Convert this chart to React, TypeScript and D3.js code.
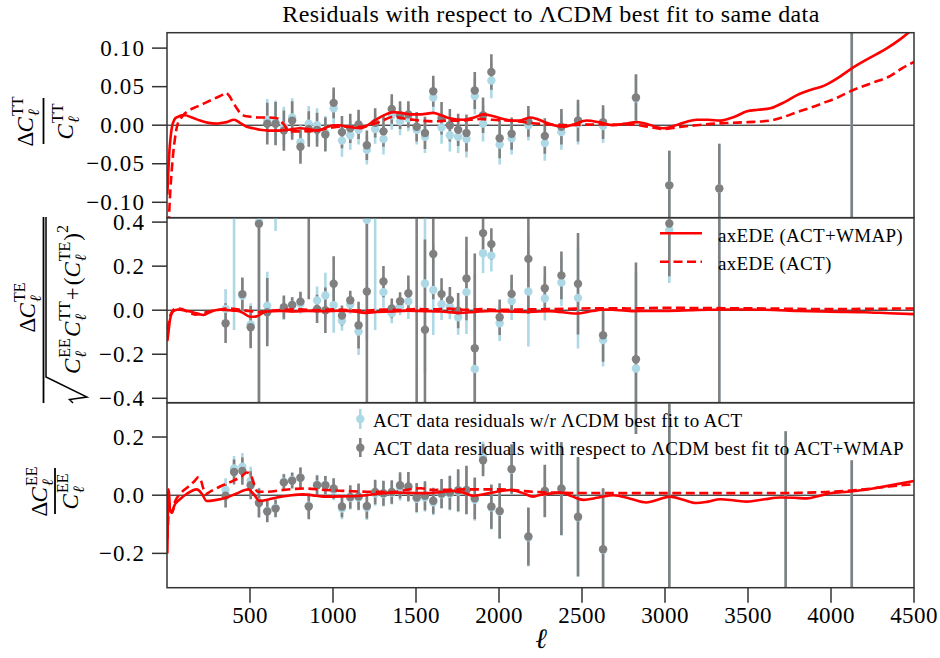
import React from 'react';
import * as d3 from 'd3';

// ---------- data ----------
const ell = [353, 404, 454, 504, 554, 604, 654, 704, 754, 804, 854, 904, 954, 1004, 1054, 1104, 1154, 1204, 1254, 1304, 1354, 1404, 1454, 1504, 1554, 1604, 1654, 1704, 1754, 1804, 1854, 1904, 1954, 2004, 2076, 2177, 2276, 2376, 2476, 2627, 2825, 3026, 3327, 3727, 4125];

const ttGray = [null, null, null, null, null, 0.002, 0.002, -0.007, 0.006, -0.028, -0.005, -0.006, -0.012, 0.029, -0.009, -0.004, 0.001, -0.026, 0.003, -0.008, 0.021, 0.013, 0.014, -0.002, -0.010, 0.044, 0.009, 0.000, -0.006, -0.010, 0.045, 0.013, 0.069, -0.017, -0.011, 0.005, -0.014, -0.002, 0.006, 0.004, 0.036, -0.078, -0.082, null, 0.25];
const ttBlue = [null, null, null, null, null, 0.007, 0.004, -0.002, 0.010, -0.022, 0.002, 0.000, -0.010, 0.022, -0.020, -0.013, -0.006, -0.032, -0.005, -0.018, 0.013, 0.005, 0.009, -0.006, -0.015, 0.036, -0.003, -0.013, -0.015, -0.018, 0.038, 0.002, 0.058, -0.025, -0.017, 0.000, -0.023, -0.009, 0.002, -0.001, 0.035, -0.078, -0.082, null, 0.25];
const ttErr = [0, 0, 0, 0, 0, 0.027, 0.028, 0.026, 0.025, 0.022, 0.023, 0.022, 0.022, 0.020, 0.021, 0.019, 0.019, 0.019, 0.019, 0.020, 0.019, 0.018, 0.017, 0.019, 0.021, 0.020, 0.021, 0.021, 0.021, 0.024, 0.024, 0.023, 0.023, 0.026, 0.021, 0.020, 0.023, 0.023, 0.027, 0.022, 0.030, 0.045, 0.058, 0, 0.5];

const teGray = [-0.059, null, 0.073, -0.077, 0.392, -0.009, null, 0.014, 0.024, 0.039, 0.55, 0.006, 0.000, 0.120, -0.024, 0.045, -0.068, 0.085, null, 0.130, 0.008, 0.041, 0.077, 0.7, -0.089, 0.255, 0.073, 0.047, -0.002, 0.144, -0.173, 0.350, 0.300, -0.032, 0.074, 0.233, 0.100, 0.158, 0.120, -0.114, -0.223, 0.394, 0.7, null, null];
const teBlue = [0.006, 0.50, 0.065, -0.065, 0.400, 0.020, 0.62, 0.009, 0.024, 0.029, null, 0.044, 0.067, 0.023, -0.048, 0.027, -0.097, 0.410, 0.52, 0.082, -0.014, 0.017, 0.040, null, 0.121, 0.092, 0.027, 0.017, -0.032, 0.082, -0.267, 0.259, 0.248, -0.059, 0.042, 0.085, 0.053, 0.126, 0.056, -0.136, -0.265, 0.364, 0.7, null, null];
const teErr = [0.09, 0.59, 0.076, 0.096, 0.85, 0.155, 0.26, 0.053, 0.035, 0.045, 0.50, 0.064, 0.103, 0.125, 0.045, 0.043, 0.106, 0.55, 0.61, 0.071, 0.045, 0.040, 0.080, 1.2, 0.41, 0.205, 0.072, 0.058, 0.080, 0.190, 0.43, 0.090, 0.072, 0.081, 0.087, 0.25, 0.10, 0.108, 0.23, 0.12, 0.44, 0.24, 1.3, 0, 0];

const eeGray = [-0.002, 0.080, 0.083, 0.034, -0.027, -0.056, -0.046, 0.044, 0.050, 0.060, -0.039, 0.034, 0.034, 0.023, -0.039, -0.006, -0.005, -0.037, 0.011, 0.007, 0.011, 0.034, 0.030, -0.008, -0.002, -0.019, 0.006, 0.009, 0.017, 0.018, -0.011, 0.120, -0.039, -0.054, 0.090, -0.142, 0.015, 0.023, -0.074, -0.186, 0.50, -0.6, null, -0.40, -0.40];
const eeBlue = [0.018, 0.092, 0.098, 0.050, -0.024, -0.054, -0.044, 0.046, 0.052, 0.060, -0.036, 0.036, 0.035, 0.018, -0.046, -0.010, -0.008, -0.042, 0.006, 0.004, 0.008, 0.026, 0.026, -0.012, -0.007, -0.024, 0.003, 0.005, 0.013, 0.016, -0.016, 0.130, -0.042, -0.056, 0.088, -0.145, 0.013, 0.021, -0.076, -0.188, 0.50, -0.6, null, -0.40, -0.40];
const eeErr = [0.040, 0.043, 0.047, 0.048, 0.050, 0.037, 0.030, 0.028, 0.027, 0.035, 0.044, 0.034, 0.032, 0.035, 0.037, 0.040, 0.045, 0.043, 0.042, 0.043, 0.040, 0.045, 0.050, 0.050, 0.050, 0.045, 0.050, 0.058, 0.072, 0.083, 0.072, 0.055, 0.076, 0.095, 0.085, 0.100, 0.090, 0.160, 0.205, 0.210, 0.29, 1.0, 0, 0.62, 0.52];

const ttSolid: [number, number][] = [[2, -0.09], [8, -0.06], [14, -0.035], [22, -0.015], [30, -0.002], [38, 0.004], [50, 0.009], [68, 0.011], [90, 0.013], [108, 0.013], [150, 0.010], [199, 0.006], [250, 0.003], [299, 0.002], [330, 0.003], [359, 0.004], [404, 0.007], [440, 0.003], [480, -0.002], [520, -0.004], [560, -0.006], [610, -0.007], [661, -0.007], [730, -0.006], [801, -0.004], [850, -0.005], [902, -0.007], [950, -0.004], [1002, 0.0], [1040, 0.0], [1082, -0.002], [1120, -0.003], [1163, -0.004], [1200, -0.001], [1243, 0.005], [1300, 0.012], [1363, 0.017], [1410, 0.016], [1464, 0.014], [1530, 0.014], [1604, 0.016], [1650, 0.013], [1705, 0.009], [1785, 0.007], [1850, 0.010], [1906, 0.014], [1960, 0.012], [2026, 0.008], [2076, 0.006], [2126, 0.006], [2187, 0.010], [2230, 0.008], [2275, 0.004], [2330, 0.0], [2388, -0.002], [2450, 0.001], [2528, 0.006], [2600, 0.004], [2689, 0.0], [2760, 0.002], [2831, 0.004], [2900, 0.001], [2992, -0.004], [3080, 0.001], [3193, 0.007], [3260, 0.007], [3333, 0.006], [3420, 0.011], [3494, 0.018], [3560, 0.020], [3635, 0.022], [3720, 0.030], [3795, 0.039], [3880, 0.046], [3956, 0.051], [4040, 0.061], [4127, 0.074], [4230, 0.087], [4338, 0.100], [4420, 0.112], [4500, 0.126]];
const ttDashed: [number, number][] = [[10, -0.13], [14, -0.11], [20, -0.085], [28, -0.06], [38, -0.035], [48, -0.017], [62, 0.0], [78, 0.007], [98, 0.013], [118, 0.017], [180, 0.024], [240, 0.030], [300, 0.036], [330, 0.039], [355, 0.042], [375, 0.038], [395, 0.031], [420, 0.022], [440, 0.016], [470, 0.012], [500, 0.011], [550, 0.010], [600, 0.010], [661, 0.009], [700, 0.002], [741, -0.008], [800, -0.008], [902, -0.007], [970, -0.004], [1042, -0.002], [1100, -0.002], [1163, -0.002], [1263, 0.003], [1320, 0.008], [1363, 0.011], [1420, 0.009], [1484, 0.007], [1604, 0.005], [1700, 0.006], [1765, 0.006], [1886, 0.008], [1960, 0.007], [2046, 0.006], [2120, 0.005], [2187, 0.003], [2300, 0.001], [2388, 0.0], [2590, 0.001], [2791, 0.001], [2900, -0.002], [2992, -0.005], [3100, -0.002], [3193, 0.0], [3300, 0.002], [3394, 0.003], [3500, 0.004], [3635, 0.006], [3720, 0.011], [3795, 0.017], [3880, 0.023], [3956, 0.029], [4040, 0.036], [4127, 0.045], [4250, 0.055], [4358, 0.064], [4430, 0.074], [4500, 0.082]];

const teSolid: [number, number][] = [[2, -0.14], [8, -0.105], [18, -0.044], [30, -0.012], [48, 0.0], [70, 0.003], [98, 0.0], [140, -0.006], [179, -0.014], [219, -0.022], [250, -0.012], [279, -0.002], [320, 0.002], [359, 0.001], [400, -0.002], [440, -0.006], [470, -0.018], [500, -0.030], [540, -0.028], [570, -0.015], [600, -0.006], [680, -0.003], [761, -0.006], [850, -0.003], [950, -0.005], [1050, -0.002], [1150, -0.008], [1203, -0.012], [1260, -0.008], [1350, -0.006], [1450, -0.002], [1550, -0.004], [1650, -0.006], [1765, -0.012], [1850, -0.008], [1950, -0.003], [2050, -0.006], [2187, -0.008], [2300, -0.004], [2468, -0.015], [2560, -0.004], [2650, 0.003], [2800, -0.004], [3000, -0.003], [3200, 0.001], [3400, 0.003], [3600, 0.002], [3800, -0.003], [4000, -0.007], [4200, -0.009], [4350, -0.014], [4500, -0.018]];
const teDashed: [number, number][] = [[5, -0.09], [12, -0.05], [25, -0.015], [40, 0.003], [60, 0.008], [90, 0.005], [130, -0.01], [170, -0.02], [210, -0.015], [260, -0.005], [320, 0.003], [380, 0.008], [430, 0.003], [500, -0.004], [560, -0.008], [620, -0.003], [700, 0.002], [800, 0.004], [900, 0.0], [1000, 0.004], [1100, 0.0], [1200, -0.002], [1300, 0.003], [1400, 0.001], [1500, 0.005], [1600, 0.004], [1700, 0.007], [1800, 0.002], [1900, 0.005], [2000, 0.002], [2200, 0.004], [2400, 0.006], [2600, 0.009], [2800, 0.008], [3000, 0.011], [3200, 0.010], [3400, 0.009], [3600, 0.008], [3800, 0.006], [4000, 0.005], [4200, 0.006], [4500, 0.008]];

const eeSolid: [number, number][] = [[2, -0.20], [5, -0.08], [9, 0.02], [13, 0.0], [18, -0.05], [28, -0.06], [45, -0.035], [78, -0.014], [120, 0.005], [179, 0.02], [210, 0.005], [239, -0.02], [290, -0.017], [359, -0.008], [420, 0.006], [490, 0.02], [520, 0.005], [560, -0.02], [610, -0.015], [661, -0.008], [740, -0.001], [821, 0.003], [900, -0.002], [962, -0.005], [1060, -0.004], [1163, -0.002], [1260, 0.004], [1363, 0.009], [1460, 0.008], [1564, 0.007], [1650, 0.011], [1725, 0.015], [1790, 0.008], [1845, -0.002], [1950, 0.008], [2066, 0.018], [2140, 0.008], [2206, -0.005], [2240, 0.0], [2275, 0.003], [2375, 0.009], [2440, -0.004], [2508, -0.016], [2600, -0.008], [2689, 0.0], [2790, -0.012], [2887, -0.025], [2960, -0.015], [3028, -0.005], [3110, -0.016], [3189, -0.027], [3260, -0.022], [3333, -0.014], [3420, -0.018], [3494, -0.022], [3600, -0.014], [3695, -0.008], [3780, -0.009], [3855, -0.011], [3930, -0.002], [3996, 0.007], [4100, 0.012], [4197, 0.018], [4350, 0.033], [4500, 0.049]];
const eeDashed: [number, number][] = [[3, -0.15], [8, -0.07], [15, -0.03], [30, -0.06], [50, -0.02], [80, 0.005], [130, 0.03], [165, 0.048], [190, 0.062], [205, 0.05], [220, 0.02], [232, 0.004], [260, 0.012], [320, 0.03], [400, 0.05], [450, 0.065], [480, 0.078], [500, 0.074], [520, 0.045], [545, 0.012], [600, 0.012], [700, 0.018], [821, 0.023], [950, 0.018], [1060, 0.015], [1200, 0.012], [1363, 0.011], [1480, 0.022], [1530, 0.024], [1600, 0.018], [1800, 0.02], [2000, 0.02], [2200, 0.012], [2400, 0.008], [2800, 0.007], [3200, 0.007], [3600, 0.007], [3800, 0.008], [4000, 0.012], [4200, 0.02], [4350, 0.03], [4500, 0.038]];

const ttTicks = [-0.10, -0.05, 0.0, 0.05, 0.10];
const teTicks = [-0.4, -0.2, 0.0, 0.2, 0.4];
const eeTicks = [-0.2, 0.0, 0.2];
const xTicks = [500, 1000, 1500, 2000, 2500, 3000, 3500, 4000, 4500];

const titleText = 'Residuals with respect to ΛCDM best fit to same data';
const legendModels = ['axEDE (ACT+WMAP)', 'axEDE (ACT)'];
const legendData = ['ACT data residuals w/r ΛCDM best fit to ACT', 'ACT data residuals with respect to ΛCDM best fit to ACT+WMAP'];

// ---------- styling ----------
const FONT = "'Liberation Serif','DejaVu Serif','Times New Roman',serif";
const RED = '#ff0000';
const GRAY = '#808080';
const BLUE = '#add8e6';
const SPINE = '#333333';
const X0 = 167, X1 = 914;

type Piece = { t: string; fs: number; it?: boolean; dy: number; adv: number };
const CW: Record<string, number> = { 'Δ': 0.612, 'C': 0.667, 'E': 0.611, 'T': 0.611, 'ℓ': 0.42, '(': 0.333, ')': 0.333, '+': 0.564, '2': 0.5 };
const tw = (s: string, fs: number) => Array.from(s).reduce((a, c) => a + (CW[c] ?? 0.5), 0) * fs;

function cTerm(sup: string, base = 23): Piece[] {
  return [
    { t: 'C', fs: base, it: true, dy: 0, adv: tw('C', base) + 1 },
    { t: sup, fs: 16, dy: -10, adv: 0 },
    { t: 'ℓ', fs: 16, it: true, dy: 6, adv: Math.max(tw(sup, 16), tw('ℓ', 16)) + 1 },
  ];
}

function MathRow({ pieces, y, center = 0, left }: { pieces: Piece[]; y: number; center?: number; left?: number }) {
  const total = pieces.reduce((a, p) => a + p.adv, 0);
  let xx = left !== undefined ? left : center - total / 2;
  return (
    <g>
      {pieces.map((p, i) => {
        const el = (
          <text key={i} x={xx} y={y + p.dy} fontSize={p.fs} fontStyle={p.it ? 'italic' : 'normal'} fill="#000">
            {p.t}
          </text>
        );
        xx += p.adv;
        return el;
      })}
    </g>
  );
}

type PanelDef = {
  top: number; bottom: number; dom: [number, number]; ticks: number[]; fmt: string;
  gray: (number | null)[]; blue: (number | null)[]; err: number[];
  solid: [number, number][]; dashed: [number, number][]; id: string;
};

const panels: PanelDef[] = [
  { id: 'tt', top: 32.7, bottom: 217.7, dom: [-0.12, 0.12], ticks: ttTicks, fmt: '.2f', gray: ttGray, blue: ttBlue, err: ttErr, solid: ttSolid, dashed: ttDashed },
  { id: 'te', top: 217.7, bottom: 402.7, dom: [-0.42, 0.42], ticks: teTicks, fmt: '.1f', gray: teGray, blue: teBlue, err: teErr, solid: teSolid, dashed: teDashed },
  { id: 'ee', top: 402.7, bottom: 587.7, dom: [-0.318, 0.318], ticks: eeTicks, fmt: '.1f', gray: eeGray, blue: eeBlue, err: eeErr, solid: eeSolid, dashed: eeDashed },
];

function Panel({ p, x }: { p: PanelDef; x: d3.ScaleLinear<number, number> }) {
  const y = d3.scaleLinear().domain(p.dom).range([p.bottom, p.top]);
  const line = d3.line<[number, number]>().x(d => x(d[0])).y(d => y(d[1])).curve(d3.curveMonotoneX);
  const fmt = d3.format(p.fmt);
  const clip = `clip-${p.id}`;
  const bars = (vals: (number | null)[], color: string) =>
    ell.map((l, i) => {
      const v = vals[i];
      if (v === null || v === undefined) return null;
      const e = p.err[i];
      return <line key={i} x1={x(l)} x2={x(l)} y1={y(v - e)} y2={y(v + e)} stroke={color} strokeWidth={2.6} />;
    });
  const dots = (vals: (number | null)[], color: string) =>
    ell.map((l, i) => {
      const v = vals[i];
      if (v === null || v === undefined) return null;
      return <circle key={i} cx={x(l)} cy={y(v)} r={4.2} fill={color} />;
    });
  return (
    <g>
      <defs>
        <clipPath id={clip}>
          <rect x={X0} y={p.top} width={X1 - X0} height={p.bottom - p.top} />
        </clipPath>
      </defs>
      <g clipPath={`url(#${clip})`}>
        <line x1={X0} x2={X1} y1={y(0)} y2={y(0)} stroke="#000" strokeWidth={1} />
        {bars(p.blue, BLUE)}
        {bars(p.gray, GRAY)}
        {dots(p.blue, BLUE)}
        {dots(p.gray, GRAY)}
        <path d={line(p.solid) || ''} fill="none" stroke={RED} strokeWidth={2.6} />
        <path d={line(p.dashed) || ''} fill="none" stroke={RED} strokeWidth={2.6} strokeDasharray="9,4.5" />
      </g>
      <rect x={X0} y={p.top} width={X1 - X0} height={p.bottom - p.top} fill="none" stroke={SPINE} strokeWidth={1.5} />
      {p.ticks.map((t, i) => (
        <g key={i}>
          <line x1={152} x2={X0} y1={y(t)} y2={y(t)} stroke={SPINE} strokeWidth={1.5} />
          <text x={145} y={y(t)} textAnchor="end" dominantBaseline="central" fontSize={23} letterSpacing={1.1} fill="#000">
            {fmt(t)}
          </text>
        </g>
      ))}
    </g>
  );
}

export default function App() {
  const x = d3.scaleLinear().domain([0, 4500]).range([X0, X1]);
  const bottom = panels[2].bottom;

  const numTT: Piece[] = [{ t: 'Δ', fs: 23, dy: 0, adv: tw('Δ', 23) }, ...cTerm('TT')];
  const denTT: Piece[] = cTerm('TT');
  const numTE: Piece[] = [{ t: 'Δ', fs: 23, dy: 0, adv: tw('Δ', 23) }, ...cTerm('TE')];
  const denTE: Piece[] = [
    ...cTerm('EE'),
    ...cTerm('TT'),
    { t: '+', fs: 23, dy: 0, adv: tw('+', 23) + 2 },
    { t: '(', fs: 23, dy: 0, adv: tw('(', 23) },
    ...cTerm('TE'),
    { t: ')', fs: 23, dy: 0, adv: tw(')', 23) },
    { t: '2', fs: 16, dy: -12, adv: tw('2', 16) },
  ];
  const numEE: Piece[] = [{ t: 'Δ', fs: 23, dy: 0, adv: tw('Δ', 23) }, ...cTerm('EE')];
  const denEE: Piece[] = cTerm('EE');

  return (
    <svg width={940} height={658} style={{ position: 'absolute', left: 0, top: 0, display: 'block', background: '#fff' }} fontFamily={FONT}>
      <rect x={0} y={0} width={940} height={658} fill="#fff" />
      <text x={551} y={22} textAnchor="middle" fontSize={24} letterSpacing={0.4} fill="#000">{titleText}</text>

      {panels.map(p => <Panel key={p.id} p={p} x={x} />)}

      {/* x axis ticks and labels */}
      {xTicks.map((t, i) => (
        <g key={i}>
          <line x1={x(t)} x2={x(t)} y1={bottom} y2={bottom + 15} stroke={SPINE} strokeWidth={1.5} />
          <text x={x(t)} y={623} textAnchor="middle" fontSize={23} letterSpacing={0.4} fill="#000">{t}</text>
        </g>
      ))}
      <text x={541} y={648} textAnchor="middle" fontSize={28} fontStyle="italic" fill="#000">ℓ</text>

      {/* y labels */}
      <g transform="translate(43.5,121) rotate(-90)">
        <MathRow pieces={numTT} y={-10.5} />
        <line x1={-23} x2={23} y1={0} y2={0} stroke="#000" strokeWidth={1.8} />
        <MathRow pieces={denTT} y={29} />
      </g>
      <g transform="translate(43.5,310) rotate(-90)">
        <MathRow pieces={numTE} y={-8.5} center={3} />
        <line x1={-93} x2={93} y1={0} y2={0} stroke="#000" strokeWidth={1.8} />
        <path d="M-93,29.5 L-89.5,26 L-87,43.5 L-67,2.5 L93,2.5" fill="none" stroke="#000" strokeWidth={1.5} />
        <MathRow pieces={denTE} y={36.5} left={-64} />
      </g>
      <g transform="translate(55,491) rotate(-90)">
        <MathRow pieces={numEE} y={-8} />
        <line x1={-23} x2={23} y1={0} y2={0} stroke="#000" strokeWidth={1.8} />
        <MathRow pieces={denEE} y={23} />
      </g>

      {/* legend: models */}
      <line x1={660} x2={702} y1={233.3} y2={233.3} stroke={RED} strokeWidth={2.6} />
      <text x={718} y={235} dominantBaseline="central" fontSize={19} letterSpacing={0.3} fill="#000">{legendModels[0]}</text>
      <line x1={660} x2={702} y1={261.7} y2={261.7} stroke={RED} strokeWidth={2.6} strokeDasharray="9,4.5" />
      <text x={718} y={263} dominantBaseline="central" fontSize={19} letterSpacing={0.3} fill="#000">{legendModels[1]}</text>

      {/* legend: data */}
      <line x1={360.3} x2={360.3} y1={409} y2={429} stroke={BLUE} strokeWidth={2.6} />
      <circle cx={360.3} cy={419} r={4.2} fill={BLUE} />
      <text x={373} y={420} dominantBaseline="central" fontSize={19} letterSpacing={0.3} fill="#000">{legendData[0]}</text>
      <line x1={360.3} x2={360.3} y1={438} y2={457} stroke={GRAY} strokeWidth={2.6} />
      <circle cx={360.3} cy={447.7} r={4.2} fill={GRAY} />
      <text x={373} y={448.5} dominantBaseline="central" fontSize={19} letterSpacing={0.3} fill="#000">{legendData[1]}</text>
    </svg>
  );
}
